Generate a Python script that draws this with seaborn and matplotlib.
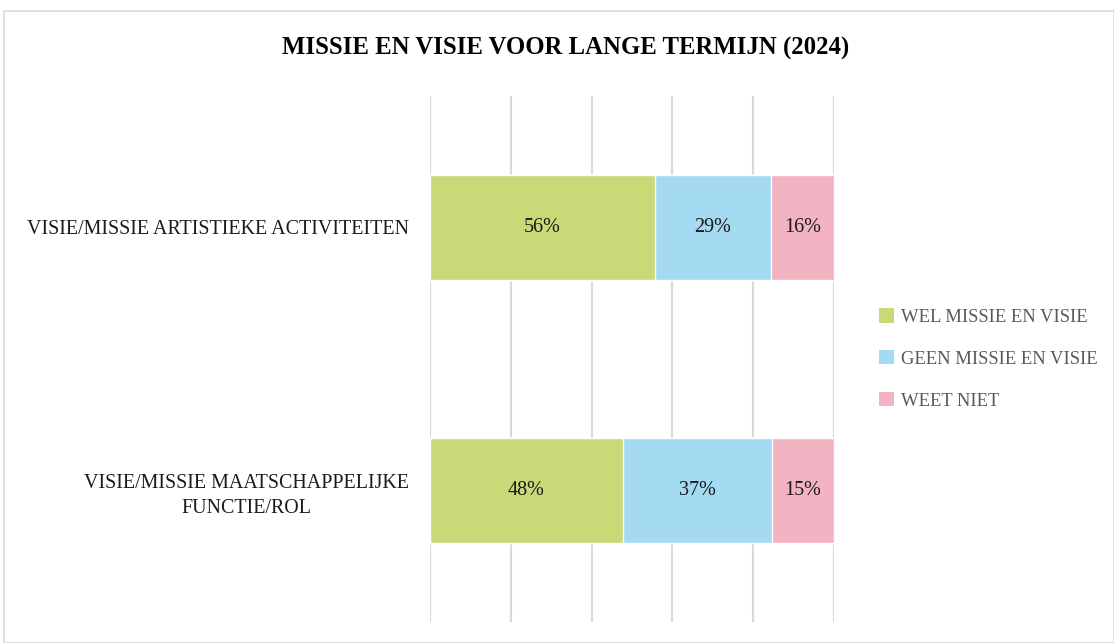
import pandas as pd
import seaborn as sns
import matplotlib.pyplot as plt
from matplotlib.patches import Rectangle, Patch

# data
categories = ["VISIE/MISSIE ARTISTIEKE ACTIVITEITEN",
              "VISIE/MISSIE MAATSCHAPPELIJKE\nFUNCTIE/ROL"]
series = ["WEL MISSIE EN VISIE", "GEEN MISSIE EN VISIE", "WEET NIET"]
wel = [55.7, 47.8]
geen = [28.6, 36.9]
weet = [15.7, 15.3]
colors = ["#C8D977", "#A4DAF2", "#F4B3C2"]

df = pd.DataFrame({"cat": categories, series[0]: wel, series[1]: geen, series[2]: weet})

sns.set_theme(style="white")
plt.rcParams["font.family"] = ["Liberation Serif", "DejaVu Serif"]

fig = plt.figure(figsize=(11.14, 6.43), dpi=100)
ax = fig.add_axes([430 / 1114, 21 / 643, 404 / 1114, 526 / 643])

# stacked bars: draw cumulative totals back to front
cum = df[series].cumsum(axis=1)
for s, c in reversed(list(zip(series, colors))):
    sns.barplot(x=cum[s], y=df["cat"], color=c, width=0.4, orient="h", saturation=1,
                edgecolor="white", linewidth=1, ax=ax, zorder=2)

# value labels
for i in range(len(df)):
    left = 0
    for s in series:
        v = df.loc[i, s]
        ax.text(left + v / 2, i, f"{round(v)}%", ha="center", va="center",
                fontsize=14.5, color="#1a1a1a", zorder=3)
        left += v

ax.set_xlim(0, 100)
ax.set_ylim(1.5, -0.5)
ax.set_xticks(range(0, 101, 20))
ax.set_xticklabels([])
ax.xaxis.grid(True, color="#D9D9D9", linewidth=1.5, zorder=0)
ax.set_axisbelow(True)
for sp in ax.spines.values():
    sp.set_visible(False)
ax.set_xlabel("")
ax.set_ylabel("")
ax.tick_params(axis="y", length=0, pad=15, labelsize=14.4)
for lab in ax.get_yticklabels():
    lab.set_multialignment("center")
    lab.set_linespacing(1.45)
    lab.set_color("#1a1a1a")

fig.text(566 / 1114, 1 - 48 / 643, "MISSIE EN VISIE VOOR LANGE TERMIJN (2024)",
         ha="center", va="center", fontsize=17.8, fontweight="bold", color="black")

handles = [Patch(facecolor=c, edgecolor="none") for c in colors]
leg = fig.legend(handles, series, loc="center left", bbox_to_anchor=(862 / 1114, 1 - 359 / 643),
                 frameon=False, fontsize=13.4, labelspacing=1.3, handlelength=0.8, handleheight=0.8,
                 handletextpad=0.4)
for t in leg.get_texts():
    t.set_color("#595959")

fig.patches.append(Rectangle((4 / 1114, 0), 1 - 4 / 1114, 1 - 11 / 643, transform=fig.transFigure,
                             fill=False, edgecolor="#D9D9D9", linewidth=1.2))

fig.savefig("out.png", dpi=100)
